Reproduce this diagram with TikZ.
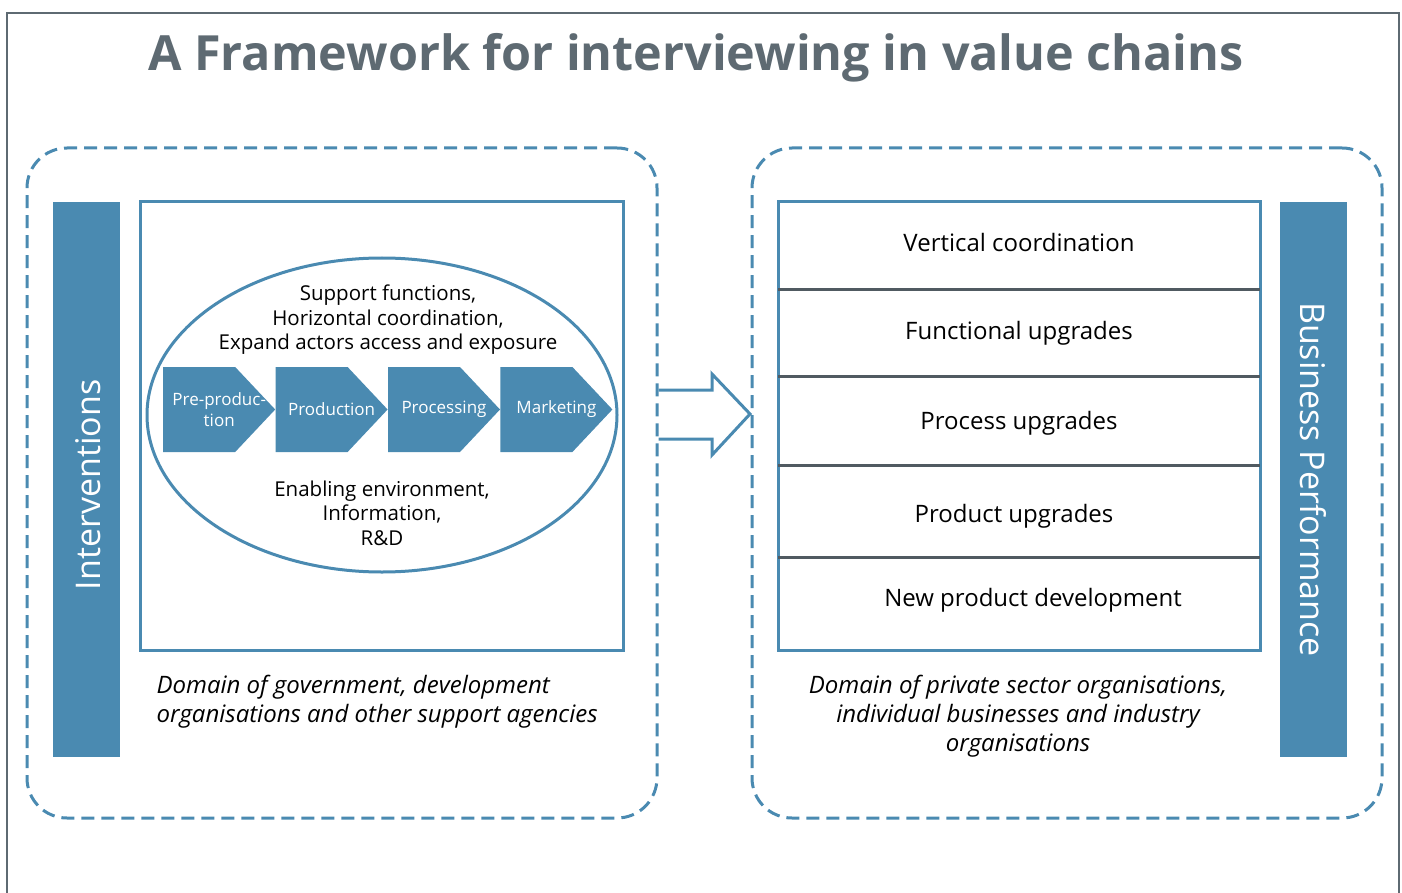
\documentclass[tikz,border=0pt]{standalone}
\usepackage{fontspec}
\setmainfont{Open Sans}
\usepackage{xcolor}
\usepackage{tikz}
\usetikzlibrary{arrows.meta}
\usetikzlibrary{calc}
\usetikzlibrary{positioning}
\usetikzlibrary{shapes.geometric}
\definecolor{chainblue}{HTML}{4A8AB1}
\definecolor{slate}{HTML}{5E6A72}
\colorlet{rulegray}{slate!85!black}
\newcommand\fs[2]{\fontsize{#1}{#2}\selectfont}
\newcommand\ppbb{path picture bounding box}
\tikzstyle{frame}=[draw=slate,line width=2pt]
\tikzstyle{zone}=[draw=chainblue,line width=3pt,dash pattern=on 13pt off 7pt,rounded corners=40pt,minimum width=630pt,minimum height=670pt]
\tikzstyle{bar}=[fill=chainblue,text=white,inner sep=0pt,minimum width=555pt,minimum height=67pt,font=\fs{34}{40}]
\tikzstyle{panel}=[draw=chainblue,line width=3pt,inner sep=0pt,minimum width=483pt,minimum height=448pt]
\tikzstyle{stage}=[inner sep=0pt,minimum width=112pt,minimum height=85pt,text=white,align=center,font=\fs{17}{21},
	path picture={\fill[chainblue] (\ppbb.north west) -- ([xshift=-40pt]\ppbb.north east) -- (\ppbb.east)
		-- ([xshift=-40pt]\ppbb.south east) -- (\ppbb.south west) -- cycle;}]
\tikzstyle{inring}=[align=center,font=\fs{20.5}{24.5}]
\tikzstyle{row}=[font=\fs{24}{29}]
\tikzstyle{sep}=[draw=rulegray,line width=3pt]
\tikzstyle{remit}=[font=\itshape\fs{24}{29}]
\tikzstyle{bigarrow}=[draw=chainblue,line width=3pt,line join=miter]

\begin{document}
\begin{tikzpicture}[x=1pt,y=-1pt]
	\useasboundingbox (0,0) rectangle (1402,893);
	\draw[frame] (7,893) -- (7,13) -- (1399,13) -- (1399,893);
	\node[font=\bfseries\fs{48.5}{58},text=slate] (title) at (696,58) {A Framework for interviewing in value chains};

	% left half: interventions
	\node[zone] (gov) at (342,483) {};
	\node[bar,rotate=90] (interv) at (86.5,479.5) {};
	\node[rotate=90,text=white,font=\fs{34}{40}] (intervtxt) at (88,485) {Interventions};
	\node[panel] (field) at (381.5,426) {};
	\node[ellipse,draw=chainblue,line width=3pt,minimum width=470pt,minimum height=314pt] (ring) at (382,415) {};
	\node[inring] (support) at (388,320) {Support functions,\\Horizontal coordination,\\Expand actors access and exposure};
	\node[inring] (enabling) at (382,513) {Enabling environment,\\Information,\\R\&D};
	\node[stage,anchor=west] (pre) at (163,409.5) {Pre-produc-\\tion};
	\node[stage,right=0pt of pre] (prodn) {Production};
	\node[stage,right=0pt of prodn] (procg) {Processing};
	\node[stage,right=0pt of procg] (mktg) {Marketing};
	\node[remit,align=left,anchor=north west] (govtext) at (153,672) {Domain of government, development\\organisations and other support agencies};

	% right half: business performance
	\node[zone] (biz) at (1067,483) {};
	\node[bar,rotate=-90] (perf) at (1313.5,479.5) {Business Performance};
	\node[panel,minimum width=482pt] (stack) at (1019,426) {};
	\foreach \y in {289,376,465,557}
		\draw[sep] ($(stack.west |- 0,\y)+(1.5,0)$) -- ($(stack.east |- 0,\y)+(-1.5,0)$);
	\node[row] (vert) at (1019,243) {Vertical coordination};
	\node[row] (func) at (1019,333) {Functional upgrades};
	\node[row] (proc) at (1019,423) {Process upgrades};
	\node[row] (prod) at (1014,516) {Product upgrades};
	\node[row] (newp) at (1033,600) {New product development};
	\node[remit,align=center,anchor=north] (biztext) at (1018,672) {Domain of private sector organisations,\\individual businesses and industry\\organisations};

	% block arrow between the two domains
	\coordinate (from) at (gov.east |- 0,414);
	\coordinate (to) at (750,414);
	\draw[bigarrow] ($(from)+(0,-24)$) -- ($(to)+(-38,-24)$) -- ($(to)+(-38,-40)$) -- (to) -- ($(to)+(-38,41)$) -- ($(to)+(-38,25)$) -- ($(from)+(0,25)$);
\end{tikzpicture}
\end{document}
